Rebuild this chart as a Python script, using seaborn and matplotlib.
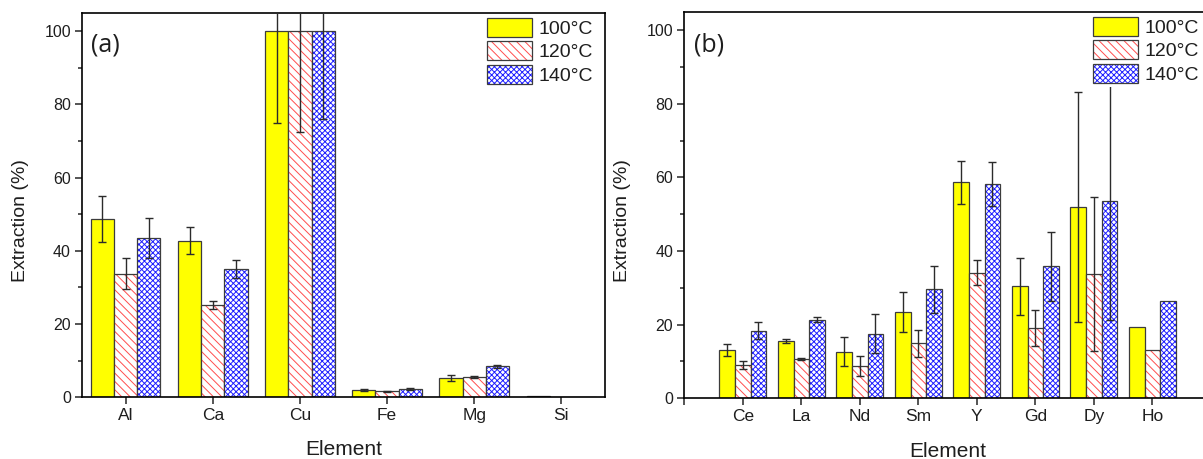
import numpy as np
import pandas as pd
import matplotlib
matplotlib.use("Agg")
import matplotlib.pyplot as plt
from matplotlib.patches import Patch
from matplotlib.colors import to_rgba
from matplotlib.ticker import MultipleLocator
import seaborn as sns

nan = np.nan

# ---- data -------------------------------------------------------------
temps = ["100°C", "120°C", "140°C"]

elements_a = ["Al", "Ca", "Cu", "Fe", "Mg", "Si"]
ext_a_100 = [48.7, 42.7, 100.0, 2.1, 5.3, 0.4]
ext_a_120 = [33.8, 25.2, 100.0, 1.6, 5.5, 0.0]
ext_a_140 = [43.5, 35.1, 100.0, 2.3, 8.5, 0.0]
err_a_100 = [6.3, 3.7, 25.0, 0.3, 0.9, nan]
err_a_120 = [4.2, 1.2, 27.5, 0.15, 0.3, nan]
err_a_140 = [5.4, 2.4, 24.0, 0.2, 0.4, nan]

elements_b = ["Ce", "La", "Nd", "Sm", "Y", "Gd", "Dy", "Ho"]
ext_b_100 = [13.2, 15.5, 12.7, 23.4, 58.7, 30.4, 52.0, 19.3]
ext_b_120 = [9.1, 10.7, 8.8, 14.9, 34.1, 19.1, 33.8, 13.1]
ext_b_140 = [18.4, 21.4, 17.6, 29.6, 58.2, 35.9, 53.7, 26.4]
err_b_100 = [1.6, 0.5, 3.9, 5.5, 5.8, 7.8, 31.3, nan]
err_b_120 = [1.1, 0.2, 2.7, 3.6, 3.4, 5.0, 21.0, nan]
err_b_140 = [2.3, 0.7, 5.4, 6.4, 5.9, 9.4, 32.5, nan]

# ---- style ------------------------------------------------------------
sns.set_style("ticks")
plt.rcParams["font.family"] = ["Liberation Sans", "DejaVu Sans"]
plt.rcParams["hatch.linewidth"] = 0.7

EDGE = "#3c3c3c"
TEXT = "#1e1e1e"
face = {"100°C": "#ffff00", "120°C": "#ffffff", "140°C": "#ffffff"}
hatch = {"100°C": None, "120°C": "\\\\\\\\", "140°C": "xxxxxx"}
hatch_col = {"100°C": EDGE, "120°C": "#ff4d4d", "140°C": "#1f1fff"}


def long_frame(elements, series):
    rows = []
    for t, vals in zip(temps, series):
        for e, v in zip(elements, vals):
            rows.append({"Element": e, "Extraction": v, "Temperature": t})
    return pd.DataFrame(rows)


def style_patch(p, t):
    p.set_edgecolor(EDGE)
    if hatch[t]:
        p.set_hatch(hatch[t])
        p._hatch_color = to_rgba(hatch_col[t])


def draw_panel(ax, elements, series, errors, letter, lead_tick):
    df = long_frame(elements, series)
    sns.barplot(data=df, x="Element", y="Extraction", hue="Temperature",
                order=elements, hue_order=temps, palette=face, saturation=1,
                errorbar=None, width=0.8, edgecolor=EDGE, linewidth=0.9,
                legend=False, ax=ax, zorder=2)
    for t, cont, vals, errs in zip(temps, ax.containers, series, errors):
        xs = []
        for p in cont.patches:
            style_patch(p, t)
            xs.append(p.get_x() + p.get_width() / 2)
        ax.errorbar(xs, vals, yerr=errs, fmt="none", ecolor="#2b2b2b",
                    elinewidth=1.0, capsize=3.2, capthick=1.0, zorder=3)

    n = len(elements)
    ax.set_ylim(0, 105)
    ax.yaxis.set_major_locator(MultipleLocator(20))
    ax.yaxis.set_minor_locator(MultipleLocator(10))
    if lead_tick:
        ax.set_xlim(-1, n)
        ax.set_xticks(range(-1, n))
        ax.set_xticklabels([""] + elements)
    else:
        ax.set_xlim(-0.5, n - 0.5)
        ax.set_xticks(range(n))
        ax.set_xticklabels(elements)

    ax.tick_params(axis="x", which="major", direction="out", length=5,
                   width=1.1, pad=2.5, labelsize=12.5, labelcolor=TEXT,
                   top=False)
    ax.tick_params(axis="y", which="major", direction="out", length=5,
                   width=1.1, pad=3, labelsize=11.5, labelcolor=TEXT,
                   right=False)
    ax.tick_params(axis="y", which="minor", direction="out", length=3,
                   width=1.1, right=False)
    for s in ax.spines.values():
        s.set_visible(True)
        s.set_linewidth(1.2)
        s.set_color("black")

    ax.set_xlabel("Element", fontsize=15, color=TEXT)
    ax.set_ylabel("Extraction (%)", fontsize=14, color=TEXT)
    ax.text(0.018, 0.915, letter, transform=ax.transAxes, fontsize=18,
            color=TEXT, family=["Open Sans", "DejaVu Sans"],
            ha="left", va="center")

    handles = []
    for t in temps:
        h = Patch(facecolor=face[t], edgecolor=EDGE, linewidth=0.9,
                  hatch=hatch[t], label=t)
        if hatch[t]:
            h._hatch_color = to_rgba(hatch_col[t])
        handles.append(h)
    leg = ax.legend(handles=handles, loc="upper right",
                    bbox_to_anchor=(0.983, 0.995), borderaxespad=0,
                    borderpad=0.15, fontsize=14, handlelength=2.3,
                    handleheight=1.13, handletextpad=0.35, labelspacing=0.18,
                    frameon=True, fancybox=False, framealpha=1,
                    labelcolor=TEXT)
    leg.get_frame().set_edgecolor("none")
    leg.get_frame().set_facecolor("white")
    leg.set_zorder(5)
    for p, t in zip(leg.get_patches(), temps):
        if hatch[t]:
            p._hatch_color = to_rgba(hatch_col[t])


fig = plt.figure(figsize=(12.03, 4.59), dpi=100)
ax_a = fig.add_axes([0.0682, 0.1344, 0.4347, 0.8379])
ax_b = fig.add_axes([0.5688, 0.1322, 0.4378, 0.8423])

draw_panel(ax_a, elements_a, [ext_a_100, ext_a_120, ext_a_140],
           [err_a_100, err_a_120, err_a_140], "(a)", lead_tick=False)
draw_panel(ax_b, elements_b, [ext_b_100, ext_b_120, ext_b_140],
           [err_b_100, err_b_120, err_b_140], "(b)", lead_tick=True)

ax_a.yaxis.set_label_coords(-0.101, 0.46)
ax_b.yaxis.set_label_coords(-0.101, 0.46)
ax_a.xaxis.set_label_coords(0.5, -0.112)
ax_b.xaxis.set_label_coords(0.5, -0.112)

fig.savefig("out.png", dpi=100)
